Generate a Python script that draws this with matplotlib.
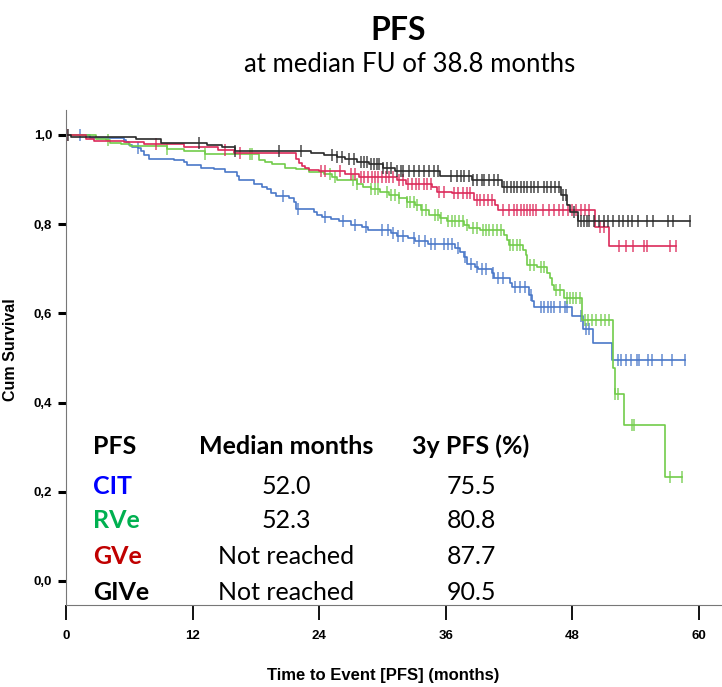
import numpy as np
import matplotlib
matplotlib.use("Agg")
import matplotlib.pyplot as plt

# step curves: event times (months) and survival after each step
cit_t = [0, 2.3, 5.5, 5.7, 6.0, 6.3, 6.8, 7.1, 7.4, 7.9, 10.2, 11.2, 11.5, 12.8, 14.0, 15.1,
         16.2, 16.4, 17.8, 18.6, 19.1, 19.4, 19.9, 21.1, 21.6, 21.8, 23.5, 23.8, 24.3, 25.1,
         25.9, 27.0, 28.1, 28.6, 30.8, 31.4, 32.4, 33.1, 34.3, 36.9, 37.4, 37.7, 38.0, 38.8,
         39.1, 40.4, 40.6, 42.1, 42.3, 43.9, 44.2, 44.4, 48.0, 49.0, 50.0, 51.8]
cit_s = [1.0, 0.993, 0.989, 0.984, 0.978, 0.974, 0.970, 0.963, 0.955, 0.947, 0.943, 0.939,
         0.933, 0.927, 0.923, 0.916, 0.907, 0.898, 0.891, 0.884, 0.879, 0.871, 0.863, 0.858,
         0.850, 0.833, 0.828, 0.821, 0.815, 0.811, 0.807, 0.798, 0.793, 0.787, 0.780, 0.774,
         0.768, 0.762, 0.755, 0.746, 0.738, 0.726, 0.711, 0.705, 0.700, 0.690, 0.680, 0.667,
         0.660, 0.641, 0.628, 0.615, 0.593, 0.564, 0.533, 0.495]
cit_cens = [1.3, 6.8, 20.6, 22.0, 24.6, 26.3, 27.4, 28.4, 30.0, 30.5, 31.0, 31.5, 32.0, 33.0,
            33.5, 34.0, 34.6, 35.0, 35.8, 36.2, 36.6, 37.2, 37.8, 38.4, 39.0, 39.4, 39.8,
            40.5, 41.0, 41.4, 42.6, 43.0, 43.5, 44.1, 45.0, 45.3, 45.7, 46.0, 46.3, 46.8,
            47.3, 47.5, 48.8, 49.3, 49.6, 52.3, 52.6, 53.1, 53.6, 54.1, 54.3, 55.2, 55.6,
            56.5, 57.5, 58.7]

rve_t = [0, 2.8, 3.8, 4.2, 5.2, 6.1, 9.6, 11.2, 13.2, 18.3, 18.9, 19.5, 20.8, 21.8, 23.0,
         24.5, 25.2, 25.7, 27.6, 28.2, 28.9, 29.8, 30.6, 31.6, 32.3, 33.1, 33.7, 34.4, 35.5,
         36.1, 37.7, 38.2, 39.3, 41.5, 41.8, 42.0, 43.3, 43.6, 43.7, 44.7, 45.6, 45.9, 46.1,
         46.3, 47.2, 48.9, 51.9, 52.1, 52.9, 56.8]
rve_s = [1.0, 0.991, 0.989, 0.983, 0.979, 0.975, 0.969, 0.965, 0.957, 0.944, 0.939, 0.934,
         0.927, 0.923, 0.918, 0.913, 0.905, 0.899, 0.891, 0.884, 0.878, 0.872, 0.865, 0.858,
         0.850, 0.843, 0.832, 0.821, 0.813, 0.808, 0.798, 0.791, 0.787, 0.776, 0.765, 0.753,
         0.742, 0.731, 0.709, 0.705, 0.690, 0.679, 0.664, 0.652, 0.634, 0.585, 0.477, 0.420,
         0.350, 0.234]
rve_cens = [4.0, 9.6, 13.2, 17.4, 17.6, 25.0, 25.5, 27.2, 27.6, 28.9, 29.3, 29.6, 30.4, 30.8,
            31.2, 31.6, 32.3, 32.6, 33.0, 33.3, 33.8, 34.1, 35.0, 35.3, 35.6, 36.2, 36.6,
            36.9, 37.3, 37.6, 38.0, 38.6, 39.0, 39.5, 39.8, 40.1, 40.5, 40.9, 41.2, 42.1,
            42.4, 42.8, 43.0, 44.0, 44.4, 45.0, 45.3, 46.5, 46.8, 47.5, 47.8, 48.1, 48.4,
            48.7, 49.2, 49.5, 49.9, 50.3, 50.7, 51.1, 51.5, 52.1, 52.3, 53.7, 53.9, 57.3, 58.4]

gve_t = [0, 1.9, 2.7, 5.5, 7.4, 11.2, 14.4, 15.9, 21.8, 22.1, 22.4, 22.7, 23.0, 24.0, 26.5,
         27.8, 31.4, 32.2, 34.7, 35.2, 36.6, 38.7, 40.7, 41.0, 50.2, 51.5]
gve_s = [1.0, 0.991, 0.987, 0.984, 0.980, 0.972, 0.966, 0.959, 0.947, 0.938, 0.930, 0.925,
         0.922, 0.920, 0.913, 0.906, 0.899, 0.891, 0.884, 0.873, 0.869, 0.854, 0.843, 0.832,
         0.793, 0.750]
gve_cens = [0.1, 8.5, 15.1, 16.5, 24.2, 24.6, 26.0, 27.0, 27.4, 28.0, 28.3, 28.6, 29.0, 29.3,
            29.6, 30.0, 30.3, 30.6, 31.0, 31.6, 32.0, 32.4, 32.8, 33.2, 33.5, 33.9, 34.2,
            34.6, 35.4, 35.8, 36.8, 37.2, 37.6, 38.0, 38.3, 39.0, 39.3, 39.6, 40.0, 40.4,
            41.4, 42.0, 42.5, 42.8, 43.1, 43.4, 43.7, 44.0, 44.3, 44.6, 45.2, 45.8, 46.3,
            46.7, 47.1, 47.6, 48.0, 48.4, 48.8, 49.2, 49.6, 50.6, 51.0, 52.4, 53.1, 53.8,
            54.8, 55.1, 57.3, 57.8]

give_t = [0, 0.5, 6.6, 9.0, 13.4, 14.8, 16.0, 23.2, 24.5, 25.7, 26.5, 27.6, 28.7, 30.1, 31.2,
          35.5, 38.5, 41.3, 46.9, 47.5, 47.8, 48.5]
give_s = [1.0, 0.995, 0.991, 0.982, 0.977, 0.972, 0.963, 0.959, 0.955, 0.950, 0.946, 0.940,
          0.934, 0.927, 0.920, 0.907, 0.899, 0.884, 0.865, 0.843, 0.828, 0.808]
give_cens = [0.2, 12.6, 16.0, 20.2, 22.3, 25.2, 25.7, 26.2, 26.8, 27.3, 28.0, 28.3, 28.5,
             28.9, 29.2, 29.5, 29.7, 30.1, 30.4, 30.8, 31.4, 31.8, 32.0, 32.5, 33.0, 33.5,
             33.9, 34.4, 34.9, 35.3, 36.5, 37.1, 37.5, 37.7, 38.2, 38.6, 39.0, 39.4, 39.6,
             40.1, 40.6, 41.0, 41.5, 41.8, 42.2, 42.5, 42.8, 43.1, 43.4, 43.7, 44.1, 44.4,
             44.8, 45.3, 45.6, 46.0, 46.4, 46.7, 47.1, 47.4, 48.2, 48.5, 48.8, 49.1, 49.4,
             49.6, 50.1, 50.5, 51.0, 51.4, 51.9, 52.4, 52.8, 53.3, 53.7, 54.2, 55.1, 55.7,
             57.1, 57.6, 59.2]

groups = ["CIT", "RVe", "GVe", "GIVe"]
medians = ["52.0", "52.3", "Not reached", "Not reached"]
pfs3y = ["75.5", "80.8", "87.7", "90.5"]

curves = [(cit_t, cit_s, cit_cens), (rve_t, rve_s, rve_cens),
          (gve_t, gve_s, gve_cens), (give_t, give_s, give_cens)]
line_colors = ["#4a78c8", "#72cc4a", "#dc2a5a", "#2a2a2a"]
text_colors = ["#0000ff", "#00b050", "#c00000", "#000000"]

TXT = ["Lato", "DejaVu Sans"]
AX = ["Liberation Sans", "DejaVu Sans"]

fig = plt.figure(figsize=(7.22, 6.87), dpi=100)
ax = fig.add_axes([66 / 722, 82 / 687, 656 / 722, 495 / 687])

for (t, s, cens), col in zip(curves, line_colors):
    t = np.array(t)
    s = np.array(s)
    end = max(t[-1], max(cens))
    tt = np.append(t, end)
    ss = np.append(s, s[-1])
    ax.step(tt, ss, where="post", color=col, lw=1.2)
    cy = s[np.searchsorted(t, cens, side="right") - 1]
    ax.plot(cens, cy, ls="none", marker="|", ms=8.5, mew=1.1, color=col, alpha=0.85)

ax.set_xlim(0, 62.2)
ax.set_ylim(-0.054, 1.056)
ax.set_xticks([0, 12, 24, 36, 48, 60])
ax.set_yticks([0, 0.2, 0.4, 0.6, 0.8, 1.0])
ax.set_yticklabels([f"{v:.1f}".replace(".", ",") for v in [0, 0.2, 0.4, 0.6, 0.8, 1.0]])
for sp in ["top", "right"]:
    ax.spines[sp].set_visible(False)
ax.spines["left"].set_color("#777777")
ax.spines["bottom"].set_color("#777777")
ax.tick_params(axis="y", length=6, width=2.2, pad=4)
ax.tick_params(axis="x", length=11, width=1.3, pad=7)
for lab in ax.get_xticklabels() + ax.get_yticklabels():
    lab.set_family(AX)
    lab.set_fontweight("bold")
    lab.set_fontsize(9.5)

ax.set_xlabel("Time to Event [PFS] (months)", family=AX, fontweight="bold", fontsize=12)
ax.xaxis.set_label_coords(0.483, -0.127)
ax.set_ylabel("Cum Survival", family=AX, fontweight="bold", fontsize=11.5)
ax.yaxis.set_label_coords(-0.073, 0.515)

fig.text(398 / 722, 1 - 30 / 687, "PFS", family=TXT, fontweight="bold", fontsize=23,
         ha="center", va="center")
fig.text(410 / 722, 1 - 65 / 687, "at median FU of 38.8 months", family=TXT, fontsize=18.5,
         ha="center", va="center")

# summary table inside the axes
rows_y = [446, 487, 521, 557, 593]
fs = 18
fig.text(93 / 722, 1 - rows_y[0] / 687, "PFS", family=TXT, fontweight="bold", fontsize=fs,
         va="center")
fig.text(286 / 722, 1 - rows_y[0] / 687, "Median months", family=TXT, fontweight="bold",
         fontsize=fs, ha="center", va="center")
fig.text(471 / 722, 1 - rows_y[0] / 687, "3y PFS (%)", family=TXT, fontweight="bold",
         fontsize=fs, ha="center", va="center")
for i, g in enumerate(groups):
    yy = 1 - rows_y[i + 1] / 687
    fig.text(93 / 722, yy, g, family=TXT, fontweight="bold", fontsize=fs,
             color=text_colors[i], va="center")
    fig.text(286 / 722, yy, medians[i], family=TXT, fontsize=fs, ha="center", va="center")
    fig.text(471 / 722, yy, pfs3y[i], family=TXT, fontsize=fs, ha="center", va="center")

fig.savefig("out.png", dpi=100)
